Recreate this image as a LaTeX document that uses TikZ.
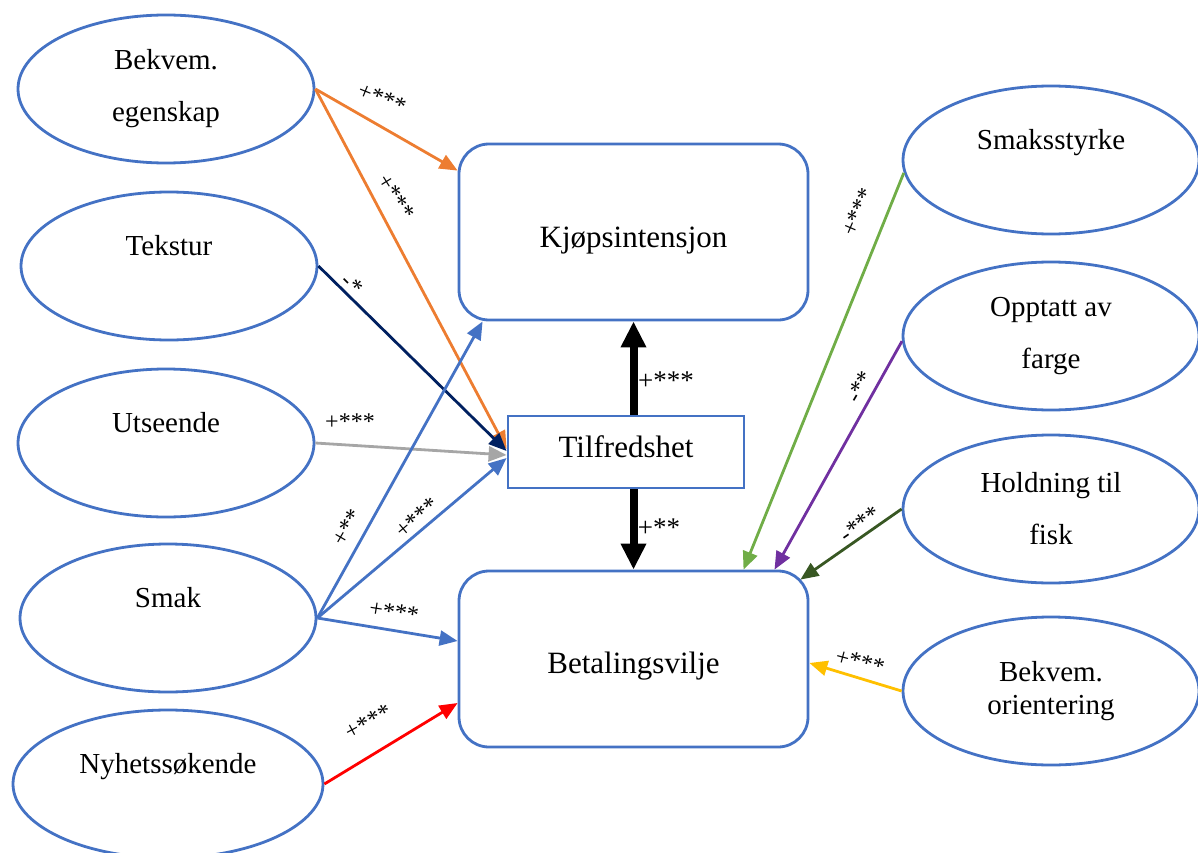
\documentclass[tikz,border=0pt]{standalone}
\usepackage{fontspec}
\setmainfont{Liberation Serif}
\usetikzlibrary{arrows.meta,shapes.geometric,calc}
\definecolor{ebl}{HTML}{4472C4}
\definecolor{eor}{HTML}{ED7D31}
\definecolor{enavy}{HTML}{002060}
\definecolor{egray}{HTML}{A6A6A6}
\definecolor{ered}{HTML}{FF0000}
\definecolor{egreen}{HTML}{70AD47}
\definecolor{epurple}{HTML}{7030A0}
\definecolor{edgreen}{HTML}{385723}
\definecolor{eyellow}{HTML}{FFC000}
\begin{document}
\begin{tikzpicture}[x=1pt,y=-1pt,
  ell/.style={draw=ebl,line width=2.8pt,ellipse,inner sep=0pt,minimum width=296pt,minimum height=148pt,align=center,font=\fontsize{29}{52}\selectfont},
  ellone/.style={ell,font=\fontsize{29}{42}\selectfont},
  box/.style={draw=ebl,line width=2.8pt,rounded corners=30pt,inner sep=0pt,minimum width=349pt,minimum height=176pt,font=\fontsize{31}{37}\selectfont},
  con/.style={line width=2.8pt,-{Triangle[length=18pt,width=15pt]}},
  lab/.style={font=\fontsize{24}{24}\selectfont,inner sep=0pt},
  blab/.style={font=\fontsize{27}{27}\selectfont,inner sep=0pt},
  big/.style={line width=8pt,-{Triangle[length=26pt,width=24pt]}},
]
\useasboundingbox (0,0) rectangle (1198,853);

% left ellipses
\node[ell] (bek) at (166,89) {Bekvem.\\egenskap};
\node[ellone] (tek) at (169,266) {Tekstur\\\mbox{}};
\node[ellone] (utse) at (166,443) {Utseende\\\mbox{}};
\node[ellone] (smak) at (168,618) {Smak\\\mbox{}};
\node[ellone,minimum width=310pt] (nyh) at (168,784) {Nyhetssøkende\\\mbox{}};

% right ellipses
\node[ellone] (ss) at (1051,160) {Smaksstyrke\\\mbox{}};
\node[ell] (opp) at (1051,336) {Opptatt av\\farge};
\node[ell] (hold) at (1051,509) {Holdning til\\fisk};
\node[ell,font=\fontsize{29}{33}\selectfont] (bor) at (1051,691) {Bekvem.\\orientering};

% boxes
\node[box,text height=37pt,text depth=7pt] (kjop) at (633.5,232) {Kjøpsintensjon};
\node[box,text height=35pt,text depth=7pt] (betal) at (633.5,659) {Betalingsvilje};
\node[draw=ebl,line width=2.8pt,inner sep=0pt,minimum width=236pt,minimum height=72pt,font=\fontsize{31}{37}\selectfont,text height=17pt,text depth=7pt] (tilf) at (626,452) {Tilfredshet};

% connectors
\draw[con,eor] (bek.east) -- ($(kjop.north west)+(0,28)$);
\draw[con,eor] (bek.east) -- ($(tilf.west)+(0,-3)$);
\draw[con,enavy] (tek.east) -- ($(tilf.west)+(0,-1)$);
\draw[con,egray] (utse.east) -- ($(tilf.west)+(0,3)$);
\draw[con,ebl] (smak.east) -- ($(tilf.west)+(0,6)$);
\draw[con,ebl] (smak.east) -- ($(kjop.south west)+(25,0)$);
\draw[con,ebl] (smak.east) -- ($(betal.west)+(0,-18)$);
\draw[con,ered] (nyh.east) -- ($(betal.west)+(0,44)$);
\draw[con,egreen] (ss.185) -- ($(betal.north)+(110,0)$);
\draw[con,epurple] (opp.182) -- ($(betal.north)+(141,0)$);
\draw[con,edgreen] (hold.west) -- ($(betal.north east)+(-9,10)$);
\draw[con,eyellow] (bor.west) -- ($(betal.east)+(0,4)$);

\draw[big] (tilf.north -| kjop.south) -- (kjop.south);
\draw[big] (tilf.south -| betal.north) -- (betal.north);

% labels
\node[lab,rotate=-22] (l1) at (382,98) {+***};
\node[lab,rotate=-58] (l2) at (396,197) {+***};
\node[lab,rotate=-45] (l3) at (352,284) {-*};
\node[lab] (l4) at (350,422) {+***};
\node[lab,rotate=60] (l5) at (347,527) {+**};
\node[lab,rotate=40] (l6) at (417,518) {+***};
\node[lab,rotate=-9] (l7) at (394,612) {+***};
\node[lab,rotate=28] (l8) at (368,722) {+***};
\node[lab,rotate=67] (l9) at (858,212) {+***};
\node[lab,rotate=60] (l10) at (860,387) {-**};
\node[lab,rotate=35] (l11) at (860,524) {-***};
\node[lab,rotate=-15] (l12) at (860,662) {+***};
\node[blab] (l13) at (666,381) {+***};
\node[blab] (l14) at (659,528) {+**};
\end{tikzpicture}
\end{document}
